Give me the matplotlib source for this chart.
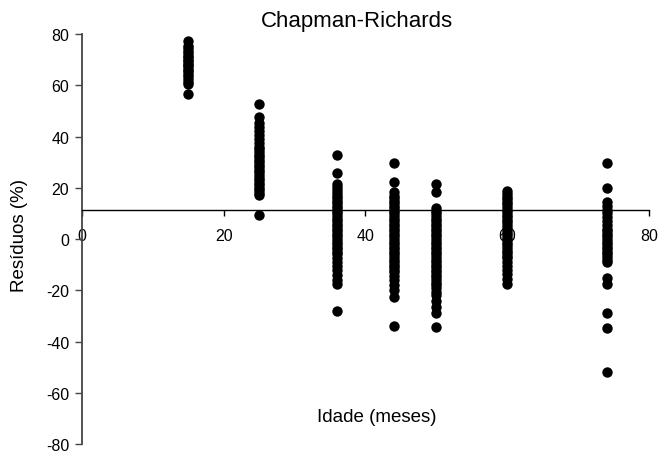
import matplotlib
matplotlib.use('Agg')
import matplotlib.pyplot as plt

plt.rcParams['font.family'] = ['Liberation Sans', 'DejaVu Sans']
plt.rcParams['axes.unicode_minus'] = False

# residuos (%) por idade (meses)
R15 = [77.5, 75.5, 74.5, 73.5, 72.5, 71.5, 71, 70, 69.5, 68.5, 68, 67, 66, 65.5,
       64.5, 63.5, 62.5, 61.5, 60.5, 56.5]
R25 = [52.8, 47.5, 45.2, 43.8, 42, 40.5, 39, 37.5, 36, 35, 34, 33, 32, 31, 30,
       29, 28, 27, 26, 25, 24, 23, 22, 21, 20, 19, 18, 17.3, 9.5]
R36 = [33, 25.6, 21.4, 20.2, 19, 18, 17, 16, 15, 14, 13, 12, 11, 10, 9, 8, 7,
       6, 5, 4, 3, 2, 1, 0, -1, -2, -3, -4, -5, -6, -7.5, -9, -10.5, -12,
       -14, -16, -17.5, -28.2]
R44 = [29.8, 22.2, 18.4, 17, 16, 15, 14, 13, 12, 11, 10, 9, 8, 7, 6, 5, 4, 3,
       2, 1, 0, -1, -2, -3, -4, -5, -6, -7, -8, -9, -10, -11, -12, -13, -14.5,
       -16, -18, -20, -22.5, -34]
R50 = [21.6, 18.5, 12, 11, 10, 9, 8, 7, 6, 5, 4, 3, 2, 1, 0, -1, -2, -3, -4,
       -5, -6, -7, -8, -9, -10, -11, -12, -13, -14, -15, -16, -17, -18, -19,
       -20.5, -22, -24, -26.5, -29, -34.2]
R60 = [18.8, 17.5, 16.5, 15.5, 14.5, 13.5, 12.5, 11.5, 10.5, 9.5, 8.5, 7.5,
       6.5, 5.5, 4.5, 3.5, 2.5, 1.5, 0.5, -0.5, -1.5, -2.5, -3.5, -4.5, -5.5,
       -6.5, -7.5, -9, -10.5, -12, -13.5, -15.5, -17.7]
R74 = [29.8, 19.9, 14.5, 13, 11.5, 10, 8.5, 7, 5.5, 4, 3, 2, 1, 0, -1, -2,
       -3, -4, -5, -6, -7, -8, -9, -15.1, -17.7, -28.8, -34.9, -51.7]

IDADES = [15, 25, 36, 44, 50, 60, 74]
RESIDUOS = [R15, R25, R36, R44, R50, R60, R74]

fig = plt.figure(figsize=(6.59, 4.56), dpi=100)
ax = fig.add_axes([0.124, 0.0241, 0.861, 0.8989])

for idade, res in zip(IDADES, RESIDUOS):
    ax.scatter([idade] * len(res), res, s=56, color='black', linewidths=0, zorder=3)

ax.set_xlim(0, 80)
ax.set_ylim(-80, 80)
ax.set_xticks([0, 20, 40, 60, 80])
ax.set_yticks(range(-80, 81, 20))

ax.spines['top'].set_visible(False)
ax.spines['right'].set_visible(False)
ax.spines['bottom'].set_position(('data', 11.2))
ax.spines['bottom'].set_linewidth(1.0)
ax.spines['left'].set_color('#444444')
ax.spines['left'].set_linewidth(1.3)

ax.tick_params(axis='x', direction='out', length=4, width=1, pad=9, labelsize=11.5)
ax.tick_params(axis='y', direction='out', length=5, width=1, color='#444444', pad=4, labelsize=11.5)

fig.text(357 / 659, 1 - 22 / 456, 'Chapman-Richards', ha='center', va='center', fontsize=16)
fig.text(377 / 659, 1 - 418 / 456, 'Idade (meses)', ha='center', va='center', fontsize=13.5)
fig.text(20 / 659, 1 - 236 / 456, 'Resíduos (%)', ha='center', va='center', rotation=90, fontsize=13.5)

fig.savefig('out.png', dpi=100)
